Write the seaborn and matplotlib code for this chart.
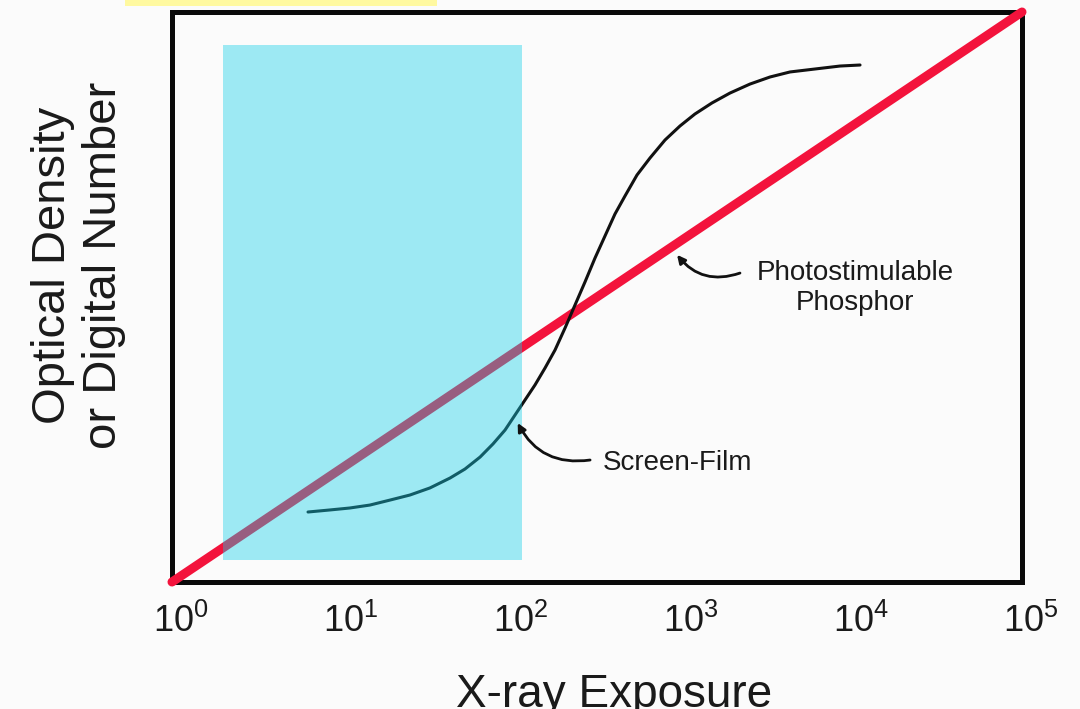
import numpy as np
import pandas as pd
import matplotlib
matplotlib.use("Agg")
import matplotlib.pyplot as plt
from matplotlib.patches import Rectangle
from matplotlib.transforms import ScaledTranslation
import seaborn as sns

# ---- data ----
exposure_ticks = [1, 10, 100, 1000, 10000, 100000]
tick_labels = [r"$\mathregular{10^{0}}$", r"$\mathregular{10^{1}}$", r"$\mathregular{10^{2}}$",
               r"$\mathregular{10^{3}}$", r"$\mathregular{10^{4}}$", r"$\mathregular{10^{5}}$"]

psp_exposure = [1, 100000]
psp_signal = [0.0, 5.0]

film_exposure = [6.31, 8.50, 11.1, 14.6, 19.2, 25.1, 32.9, 43.2, 52.9, 64.9, 77.3, 91.0,
                 104.2, 119.2, 136.5, 156.4, 179.1, 205.1, 234.8, 268.8, 307.8, 352.3,
                 403.4, 462.0, 543.5, 648.0, 794.3, 972.8, 1191, 1500, 1915, 2512, 3296,
                 4318, 6057, 8497, 11150]
film_signal = [0.614, 0.632, 0.649, 0.675, 0.719, 0.763, 0.825, 0.912, 0.991, 1.096, 1.211,
               1.333, 1.465, 1.596, 1.728, 1.877, 2.035, 2.228, 2.430, 2.632, 2.842, 3.035,
               3.228, 3.386, 3.570, 3.719, 3.877, 4.000, 4.105, 4.202, 4.289, 4.368, 4.430,
               4.474, 4.500, 4.526, 4.535]

band_exposure = [2.0, 115.0]
band_signal = [0.19, 4.71]

x_label = "X-ray Exposure"
y_label = "Optical Density\nor Digital Number"
psp_label = "Photostimulable\nPhosphor"
film_label = "Screen-Film"

# annotation anchors (exposure, signal)
psp_tip = (935, 2.87)
psp_tail = (2193, 2.71)
psp_text = (10420, 2.58)
film_tip = (108, 1.395)
film_tail = (288, 1.07)
film_text = (935, 1.044)

# ---- style ----
sns.set_theme(style="white")
plt.rcParams["font.family"] = ["Liberation Sans", "DejaVu Sans"]
plt.rcParams["mathtext.fontset"] = "custom"
plt.rcParams["mathtext.rm"] = "Liberation Sans"
plt.rcParams["mathtext.it"] = "Liberation Sans:italic"
plt.rcParams["mathtext.bf"] = "Liberation Sans:bold"

fig = plt.figure(figsize=(10.8, 7.09), dpi=100, facecolor="#fbfbfb")
ax = fig.add_axes([172 / 1080, 1 - 582 / 709, 850 / 1080, 570 / 709])
ax.set_facecolor("#fbfbfb")

psp_df = pd.DataFrame({"exposure": psp_exposure, "signal": psp_signal})
film_df = pd.DataFrame({"exposure": film_exposure, "signal": film_signal})

sns.lineplot(data=psp_df, x="exposure", y="signal", ax=ax, color="#f3133c",
             linewidth=6.5, sort=False, clip_on=False, zorder=3)
sns.lineplot(data=film_df, x="exposure", y="signal", ax=ax, color="#111111",
             linewidth=2.2, sort=False, zorder=3)

ax.set_xscale("log")
ax.set_xlim(exposure_ticks[0], exposure_ticks[-1])
ax.set_ylim(0, 5)

ax.add_patch(Rectangle((band_exposure[0], band_signal[0]),
                       band_exposure[1] - band_exposure[0],
                       band_signal[1] - band_signal[0],
                       facecolor="#11cfe8", alpha=0.4, edgecolor="none", zorder=4))

ax.set_xticks(exposure_ticks)
ax.set_xticklabels(tick_labels, fontsize=26, color="#1a1a1a")
ax.minorticks_off()
ax.set_yticks([])
ax.tick_params(axis="x", length=0, pad=16)
shift = ScaledTranslation(9 / 100, 0, fig.dpi_scale_trans)
for lbl in ax.get_xticklabels():
    lbl.set_transform(lbl.get_transform() + shift)

for s in ax.spines.values():
    s.set_visible(True)
    s.set_color("#0a0a0a")
    s.set_linewidth(3.6)

ax.set_xlabel(x_label, fontsize=33, color="#1a1a1a")
ax.xaxis.set_label_coords(0.52, -0.16)
ax.xaxis.label.set_va("top")
ax.set_ylabel(y_label, fontsize=34, color="#1a1a1a", linespacing=1.2)
ax.yaxis.set_label_coords(-0.11, 0.555)
ax.yaxis.label.set_va("center")

arrow_kw = dict(arrowstyle="-|>", color="#111111", lw=2, mutation_scale=12,
                connectionstyle="arc3,rad=-0.35", shrinkA=0, shrinkB=0)

ax.annotate(psp_label, xy=psp_text, ha="center", va="center", fontsize=20,
            color="#1a1a1a", linespacing=1.2, zorder=6)
ax.annotate("", xy=psp_tip, xytext=psp_tail, arrowprops=arrow_kw, zorder=6)
ax.annotate(film_label, xy=film_text, ha="center", va="center", fontsize=20,
            color="#1a1a1a", zorder=6)
ax.annotate("", xy=film_tip, xytext=film_tail, arrowprops=arrow_kw, zorder=6)

# yellow highlight strip at top
fig.patches.append(Rectangle((125 / 1080, 1 - 6 / 709), 312 / 1080, 6 / 709,
                             transform=fig.transFigure, facecolor="#fff9a0",
                             edgecolor="none", zorder=0))

fig.savefig("out.png", dpi=100, facecolor=fig.get_facecolor())
